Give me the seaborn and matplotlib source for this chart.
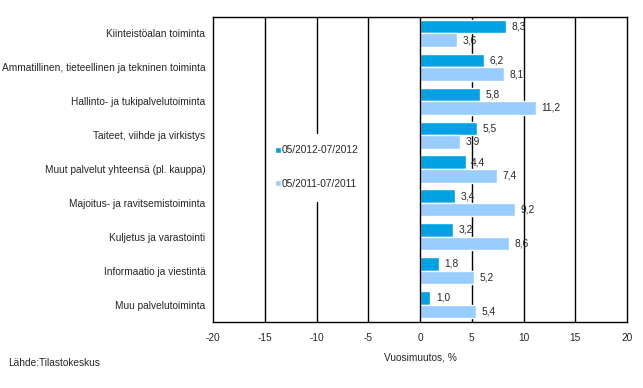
import matplotlib
matplotlib.use("Agg")
import matplotlib.pyplot as plt
import seaborn as sns
import pandas as pd

categories = [
    "Kiinteistöalan toiminta",
    "Ammatillinen, tieteellinen ja tekninen toiminta",
    "Hallinto- ja tukipalvelutoiminta",
    "Taiteet, viihde ja virkistys",
    "Muut palvelut yhteensä (pl. kauppa)",
    "Majoitus- ja ravitsemistoiminta",
    "Kuljetus ja varastointi",
    "Informaatio ja viestintä",
    "Muu palvelutoiminta",
]
series_names = ["05/2012-07/2012", "05/2011-07/2011"]
values_2012 = [8.3, 6.2, 5.8, 5.5, 4.4, 3.4, 3.2, 1.8, 1.0]
values_2011 = [3.6, 8.1, 11.2, 3.9, 7.4, 9.2, 8.6, 5.2, 5.4]
xticks = [-20, -15, -10, -5, 0, 5, 10, 15, 20]
colors = ["#00A2E3", "#99CCFF"]

sns.set_theme(style="white")
plt.rcParams["font.family"] = ["Liberation Sans", "DejaVu Sans"]
FS = 7.3

df = pd.DataFrame({
    "Toimiala": categories * 2,
    "Sarja": [series_names[0]] * len(categories) + [series_names[1]] * len(categories),
    "Arvo": values_2012 + values_2011,
})

fig = plt.figure(figsize=(6.43, 3.88), dpi=100)
ax = fig.add_axes([213 / 643, 1 - 321.5 / 388, (627 - 213) / 643, (321.5 - 16.5) / 388])

sns.barplot(data=df, y="Toimiala", x="Arvo", hue="Sarja", hue_order=series_names,
            order=categories, palette=colors, orient="h", width=0.8,
            saturation=1, ax=ax, legend=True)

ax.set_xlim(-20, 20)
ax.set_xticks(xticks)
ax.set_xticklabels([str(t) for t in xticks], fontsize=FS)
ax.tick_params(axis="x", direction="out", length=4, width=1, color="black", pad=4)
ax.tick_params(axis="y", length=0, labelsize=FS, pad=5.5)
ax.set_ylabel("")
ax.set_xlabel("Vuosimuutos, %", fontsize=FS, labelpad=7)

# vertical gridlines (the -10 line is interrupted behind the legend)
for g in [-15, -5, 5, 10, 15]:
    ax.axvline(g, color="black", linewidth=1, zorder=0.5)
gap_top = (321.5 - 133) / 305
gap_bot = (321.5 - 202) / 305
ax.axvline(-10, ymin=gap_top, ymax=1, color="black", linewidth=1, zorder=0.5)
ax.axvline(-10, ymin=0, ymax=gap_bot, color="black", linewidth=1, zorder=0.5)
ax.axvline(0, color="black", linewidth=1, zorder=1.5)
for s in ax.spines.values():
    s.set_color("black")
    s.set_linewidth(1)

for cont in ax.containers:
    ax.bar_label(cont, labels=[f"{v:.1f}".replace(".", ",") for v in cont.datavalues],
                 padding=4, fontsize=FS)

handles, labels = ax.get_legend_handles_labels()
leg = ax.legend(handles, labels, loc="center left", bbox_to_anchor=(275 / 643, 1 - 167 / 388),
                bbox_transform=fig.transFigure, fontsize=FS, frameon=False,
                handlelength=0.6, handleheight=0.6, handletextpad=0.1,
                labelspacing=2.3, borderpad=0, borderaxespad=0)

fig.text(8 / 643, 1 - 363 / 388, "Lähde:Tilastokeskus", fontsize=FS, va="center", ha="left")

fig.savefig("out.png", dpi=100)
